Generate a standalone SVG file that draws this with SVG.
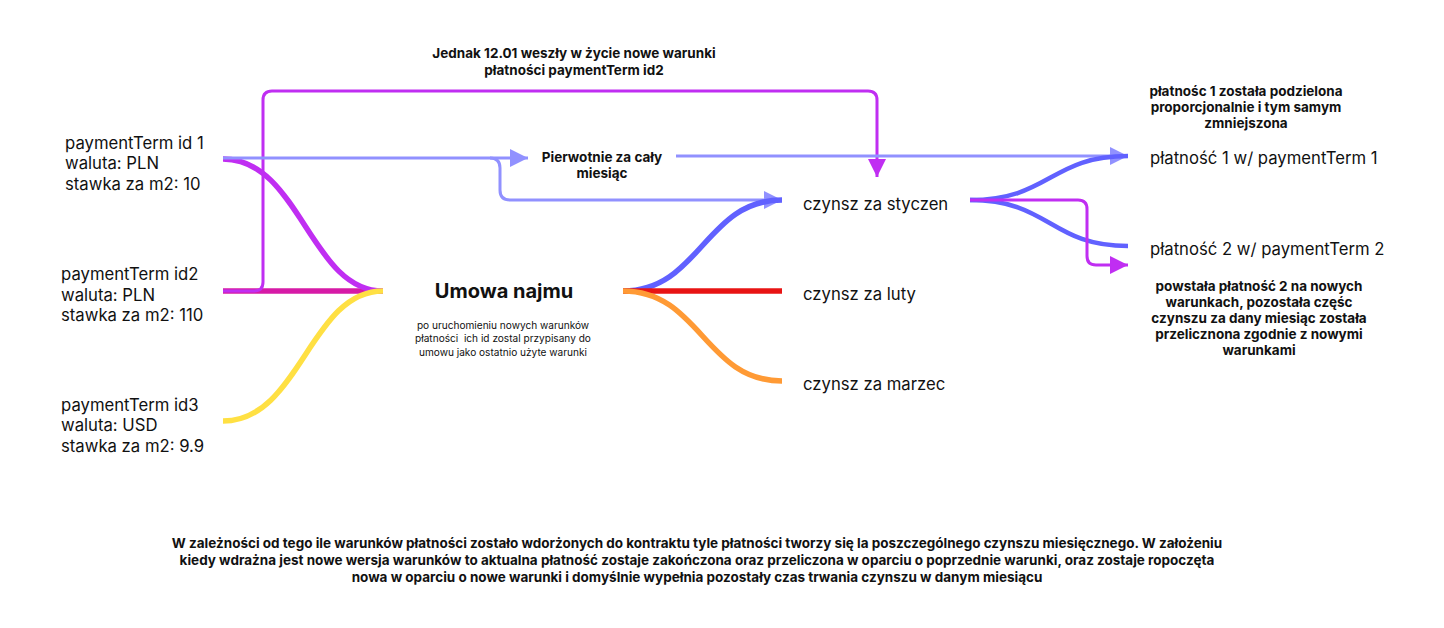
<svg xmlns="http://www.w3.org/2000/svg" width="1444" height="628" viewBox="0 0 1444 628">
<defs>
<marker id="aLight" viewBox="0 0 10 10" refX="10" refY="5" markerWidth="18" markerHeight="18" markerUnits="userSpaceOnUse" orient="auto"><path d="M0,0 L10,5 L0,10 Z" fill="#9191ff"/></marker>
<marker id="aPurple" viewBox="0 0 10 10" refX="10" refY="5" markerWidth="18" markerHeight="18" markerUnits="userSpaceOnUse" orient="auto"><path d="M0,0 L10,5 L0,10 Z" fill="#c02ef2"/></marker>
</defs>
<style>
text{font-family:Inter,"Liberation Sans",sans-serif;fill:#111}
.n{font-size:16.7px}
.b{font-weight:bold;font-size:13.5px;text-anchor:middle}
.c{fill:none;stroke-linecap:butt}
.light{stroke:#9191ff;stroke-width:3}
.pur{stroke:#c02ef2;stroke-width:3}
.thick{stroke-width:5.5}
</style>
<rect width="1444" height="628" fill="#fff"/>
<g id="connectors">
<path class="c thick" stroke="#d61aa6" d="M223,291 L383,291"/>
<path class="c thick" stroke="#c02ef2" d="M223,159 C300,159 310,291 383,291"/>
<path class="c thick" stroke="#ffe043" d="M223,421 C300,421 310,291 383,291"/>
<path class="c pur" d="M223,291 L254,291 Q263,291 263,282 L263,100 Q263,91 272,91 L868,91 Q877,91 877,100 L877,177" marker-end="url(#aPurple)"/>
<path class="c light" d="M223,158 L528,158" marker-end="url(#aLight)"/>
<path class="c light" d="M490,158 Q500,158 500,168 L500,190 Q500,200 510,200 L782,200" marker-end="url(#aLight)"/>
<path class="c light" d="M676,156 L1128,156" marker-end="url(#aLight)"/>
<path class="c thick" stroke="#6161ff" d="M623,291 C700,291 705,200 782,200"/>
<path class="c thick" stroke="#e81414" d="M623,291 L782,291"/>
<path class="c thick" stroke="#ff9a35" d="M623,291 C700,291 705,381 782,381"/>
<path class="c" stroke="#6161ff" stroke-width="4.5" d="M970,200 C1050,200 1050,156 1128,156"/>
<path class="c" stroke="#6161ff" stroke-width="4.5" d="M970,200 C1050,200 1050,246 1128,246"/>
<path class="c pur" d="M970,200 L1078,200 Q1087,200 1087,209 L1087,256 Q1087,265 1096,265 L1128,265" marker-end="url(#aPurple)"/>
</g>
<g id="pt1"><text class="n" x="65" y="149">paymentTerm id 1</text><text class="n" x="65" y="169">waluta: PLN</text><text class="n" x="65" y="190">stawka za m2: 10</text></g>
<g id="pt2"><text class="n" x="61" y="280">paymentTerm id2</text><text class="n" x="61" y="301">waluta: PLN</text><text class="n" x="61" y="321">stawka za m2: 110</text></g>
<g id="pt3"><text class="n" x="61" y="411">paymentTerm id3</text><text class="n" x="61" y="431">waluta: USD</text><text class="n" x="61" y="452">stawka za m2: 9.9</text></g>
<g id="umowa"><text x="504" y="298" font-size="20" font-weight="bold" text-anchor="middle">Umowa najmu</text>
<text x="503" y="329" font-size="10.1" text-anchor="middle">po uruchomieniu nowych warunków</text>
<text x="503" y="342" font-size="10.1" text-anchor="middle">płatności&#160; ich id zostal przypisany do</text>
<text x="503" y="356" font-size="10.1" text-anchor="middle">umowu jako ostatnio użyte warunki</text></g>
<g id="label-top"><text class="b" x="574" y="58">Jednak 12.01 weszły w życie nowe warunki</text><text class="b" x="574" y="75">płatności paymentTerm id2</text></g>
<g id="label-pierwotnie"><text class="b" x="602" y="162">Pierwotnie za cały</text><text class="b" x="602" y="178">miesiąc</text></g>
<g id="styczen"><text class="n" x="803" y="210">czynsz za styczen</text></g>
<g id="luty"><text class="n" x="803" y="300">czynsz za luty</text></g>
<g id="marzec"><text class="n" x="803" y="390">czynsz za marzec</text></g>
<g id="platnosc1"><text class="n" x="1150" y="164">płatność 1 w/ paymentTerm 1</text></g>
<g id="platnosc2"><text class="n" x="1150" y="255">płatność 2 w/ paymentTerm 2</text></g>
<g id="note1"><text class="b" x="1246" y="96">płatnośc 1 została podzielona</text><text class="b" x="1246" y="112">proporcjonalnie i tym samym</text><text class="b" x="1246" y="128">zmniejszona</text></g>
<g id="note2"><text class="b" x="1259" y="291">powstała płatność 2 na nowych</text><text class="b" x="1259" y="307">warunkach, pozostała częśc</text><text class="b" x="1259" y="323">czynszu za dany miesiąc została</text><text class="b" x="1259" y="339">przelicznona zgodnie z nowymi</text><text class="b" x="1259" y="355">warunkami</text></g>
<g id="footer">
<text class="b" x="697" y="548">W zależności od tego ile warunków płatności zostało wdorżonych do kontraktu tyle płatności tworzy się la poszczególnego czynszu miesięcznego. W założeniu</text>
<text class="b" x="697" y="565">kiedy wdrażna jest nowe wersja warunków to aktualna płatność zostaje zakończona oraz przeliczona w oparciu o poprzednie warunki, oraz zostaje ropoczęta</text>
<text class="b" x="697" y="582">nowa w oparciu o nowe warunki i domyślnie wypełnia pozostały czas trwania czynszu w danym miesiącu</text>
</g>
</svg>
